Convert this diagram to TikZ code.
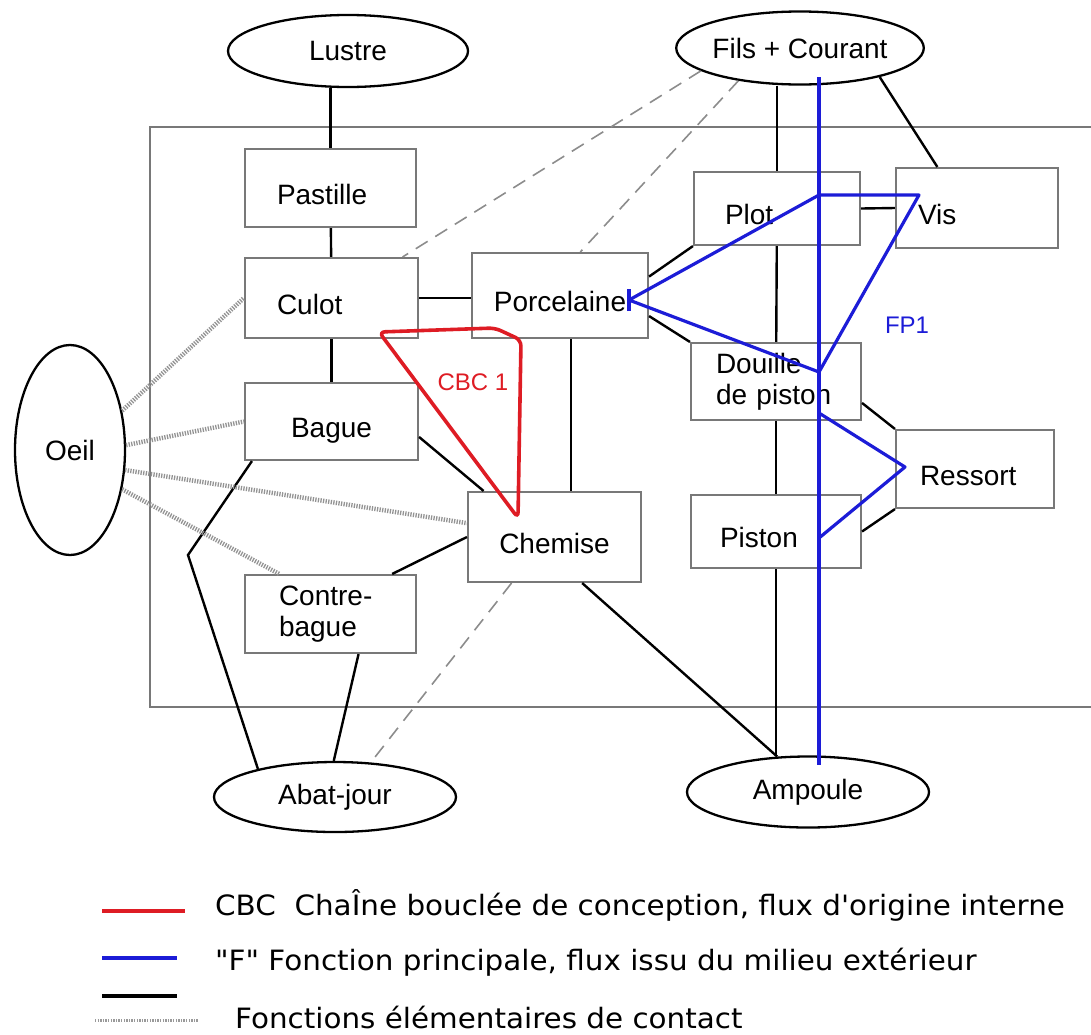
\documentclass[tikz,border=0pt]{standalone}
\usepackage{fontspec}
\setmainfont{Liberation Sans}
\newfontfamily\legendefont[FakeStretch=1.05]{DejaVu Sans}
\usetikzlibrary{shapes.geometric}

\definecolor{cadre}{RGB}{120,120,120}
\definecolor{rougecbc}{RGB}{222,28,36}
\definecolor{bleufp}{RGB}{28,28,215}

\begin{document}
\begin{tikzpicture}[x=1pt,y=-1pt,
    boite/.style={draw=cadre,line width=2.1pt,inner sep=0pt,
        font=\fontsize{28}{31}\selectfont},
    uneligne/.style={text height=32pt,text depth=0pt},
    milieu/.style={ellipse,draw,line width=2.3pt,inner sep=0pt,
        font=\fontsize{28}{31}\selectfont},
    contact/.style={line width=2.4pt},
    tirets/.style={cadre!85,line width=1.6pt,dash pattern=on 14pt off 9pt},
    pointilles/.style={cadre!80,line width=4.5pt,dash pattern=on 1.3pt off 1.3pt},
    cbc/.style={rougecbc,line width=3.6pt,rounded corners=6pt},
    fp/.style={bleufp,line width=3.2pt},
    legende/.style={anchor=west,inner sep=0pt,
        font=\legendefont\fontsize{28}{32}\selectfont}]

        \useasboundingbox (0,0) rectangle (1091,1034);

        % =========================================================
        % Cadre : la lampe (ouvert a droite)
        % =========================================================
        \draw[cadre,line width=2.6pt] (1091,127) -- (150,127) -- (150,707) -- (1091,707);

        % ---------------------------------------------------------
        % Milieu exterieur
        % ---------------------------------------------------------
        \node[milieu,minimum width=240pt,minimum height=72pt] (lustre) at (348,51) {Lustre};
        \node[milieu,minimum width=241pt,minimum height=73pt] (fils) at (800,48) {Fils + Courant};
        \node[milieu,minimum width=110pt,minimum height=210pt] (oeil) at (70,450) {Oeil};
        \node[milieu,minimum width=242pt,minimum height=70pt] (abat) at (335,797) {Abat-jour};
        \node[milieu,minimum width=242pt,minimum height=71pt] (ampoule) at (808,792) {Ampoule};

        % ---------------------------------------------------------
        % Pieces : colonne de gauche
        % ---------------------------------------------------------
        \node[boite,uneligne,text width=107pt,inner xsep=32pt,align=left,minimum height=78pt] (pastille) at (330.5,188) {Pastille};
        \node[boite,uneligne,text width=109pt,inner xsep=32pt,align=left,minimum height=80pt] (culot) at (331.5,298) {Culot};
        \node[boite,uneligne,minimum width=173pt,minimum height=77pt] (bague) at (331.5,421.5) {Bague};
        \node[boite,text width=103pt,inner xsep=34pt,align=left,minimum height=78pt] (contre) at (330.5,614) {Contre-\\bague};

        % Pieces : milieu
        \node[boite,uneligne,minimum width=176pt,minimum height=85pt] (porc) at (560,295.5) {Porcelaine};
        \node[boite,uneligne,minimum width=173pt,minimum height=90pt] (chemise) at (554.5,537) {Chemise};

        % Pieces : colonne de droite
        \node[boite,uneligne,text width=104pt,inner xsep=31pt,align=left,minimum height=73pt] (plot) at (777,208.5) {Plot};
        \node[boite,uneligne,text width=118pt,inner xsep=22pt,align=left,minimum height=80pt] (vis) at (977,208) {Vis};
        \node[boite,text width=120pt,inner xsep=25pt,align=left,minimum height=77pt] (douille) at (776,381.5) {Douille\\de piston};
        \node[boite,uneligne,text width=110pt,inner xsep=24pt,align=left,minimum height=78pt] (ressort) at (975,469) {Ressort};
        \node[boite,uneligne,text width=112pt,inner xsep=29pt,align=left,minimum height=73pt] (piston) at (776,531.5) {Piston};

        % ---------------------------------------------------------
        % Contacts (traits noirs)
        % ---------------------------------------------------------
        \draw[contact] (pastille.north) -- (pastille.north |- lustre.south);
        \draw[contact] (pastille) -- (culot);
        \draw[contact] (culot) -- (bague);
        \draw[contact] (culot.east) -- (culot.east -| porc.west);
        \draw[contact] (bague.-10) -- (chemise.147);
        \coordinate (coude) at (188,555);
        \draw[contact] ([xshift=8pt]bague.south west) -- (coude) -- (abat.160);
        \draw[contact] (contre.33) -- (chemise.west);
        \draw[contact] (contre.-55) -- (abat.92);
        \draw[contact] ([xshift=11pt]porc.south) -- ([xshift=11pt]porc.south |- chemise.north);
        \draw[contact] (chemise.-59) -- (ampoule.131);
        \draw[contact] (porc.12) -- (plot.south west);
        \draw[contact] (porc.-13) -- (douille.north west);

        \draw[contact] (plot.north) -- (plot.north |- fils.south);
        \draw[contact] (plot) -- (douille);
        \draw[contact] (douille) -- (piston);
        \draw[contact] (piston.south) -- (piston.south |- ampoule.north);
        \draw[contact] (fils.-20) -- (vis.134);
        \draw[contact] (plot.east) -- (vis.west);
        \draw[contact] (douille.-14) -- (ressort.north west);
        \draw[contact] (piston.east) -- (ressort.south west);

        % Liaisons en tirets
        \draw[tirets] (fils.193) -- (culot.30);
        \draw[tirets] (fils.208) -- (porc.65);
        \draw[tirets] (chemise.227) -- (abat.44);

        % Fonctions elementaires de contact avec l'oeil
        \draw[pointilles] (oeil.37) -- (culot.west);
        \draw[pointilles] (oeil.5) -- (bague.west);
        \draw[pointilles] (oeil.-20) -- (chemise.171);
        \draw[pointilles] (oeil.-37) -- (contre.142);

        % ---------------------------------------------------------
        % Chaine bouclee CBC 1
        % ---------------------------------------------------------
        \draw[cbc] (379,332) -- (495,328) -- (521,340) -- (518,518) -- cycle;
        \node[rougecbc,font=\fontsize{24}{26}\selectfont] (cbc1) at (473,382) {CBC 1};

        % ---------------------------------------------------------
        % Fonction principale FP1
        % ---------------------------------------------------------
        \coordinate (fpH) at (819,77);
        \coordinate (fpB) at (819,765);
        \coordinate (fpP) at (629,300);
        \coordinate (fpA) at (819,195);
        \coordinate (fpV) at (919,195);
        \coordinate (fpD) at (819,372);
        \coordinate (fpD2) at (819,413);
        \coordinate (fpR) at (905,467);
        \coordinate (fpE) at (819,538);

        \draw[fp] (fpH) -- (fpB);
        \draw[fp,line join=round] (fpP) -- (fpA) -- (fpV) -- (fpD) -- cycle;
        \draw[fp,line join=round] (fpD2) -- (fpR) -- (fpE);
        \draw[bleufp,line width=4.5pt] ([yshift=-11pt]fpP) -- ([yshift=11pt]fpP);
        \node[bleufp,font=\fontsize{24}{26}\selectfont] (fp1) at (907,325) {FP1};

        % =========================================================
        % Legende
        % =========================================================
        \draw[rougecbc,line width=4.5pt] (102,911) -- (185,911);
        \draw[bleufp,line width=4.5pt] (102,958) -- (177,958);
        \draw[line width=3.5pt] (102,996) -- (177,996);
        \draw[cadre!75,line width=3pt,dash pattern=on 1.3pt off 1.3pt] (95,1020) -- (198,1020);

        \node[legende] (leg1) at (215,905) {CBC \ ChaÎne bouclée de conception, flux d'origine interne};
        \node[legende] (leg2) at (215,962) {"F" Fonction principale, flux issu du milieu extérieur};
        \node[legende] (leg3) at (235,1017) {Fonctions élémentaires de contact};

\end{tikzpicture}
\end{document}
